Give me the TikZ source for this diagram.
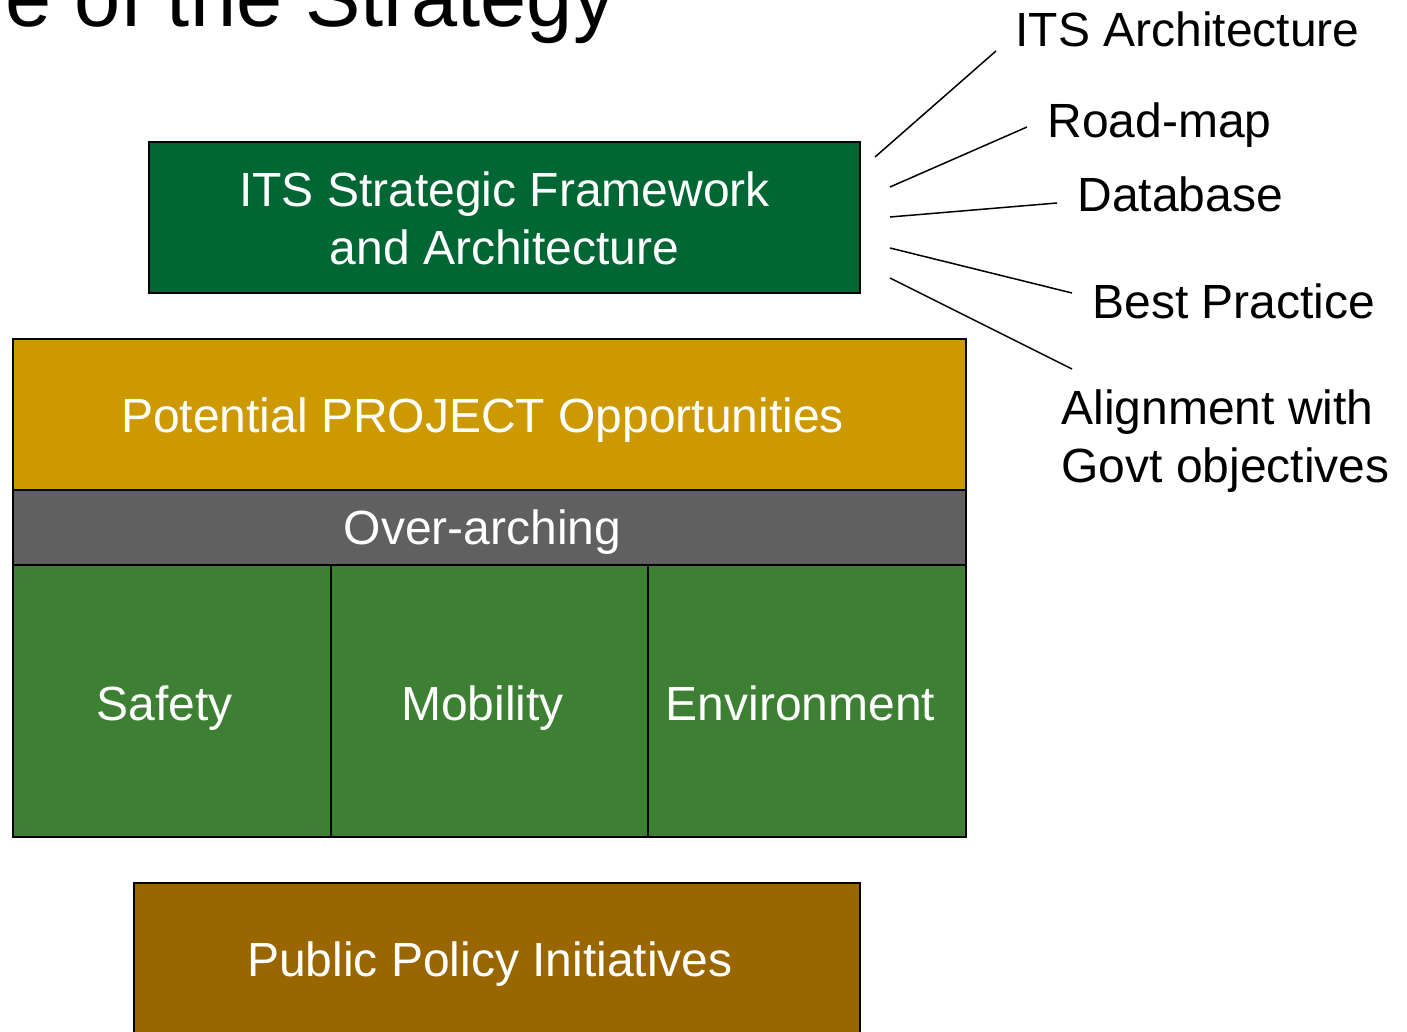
\documentclass[tikz,border=0pt]{standalone}
\usepackage{fontspec}
\setmainfont{Liberation Sans}
\usepackage{tikz}

\definecolor{fwgreen}{HTML}{006633}
\definecolor{oppgold}{HTML}{CC9900}
\definecolor{archgray}{HTML}{606060}
\definecolor{pillgreen}{HTML}{3D8033}
\definecolor{policybrown}{HTML}{996600}

\tikzset{
  blk/.style={draw=black, line width=1pt, inner sep=0pt, outer sep=0pt},
  wtxt/.style={text=white, font=\fontsize{24}{29}\selectfont, inner sep=0pt, anchor=base},
  btxt/.style={text=black, font=\fontsize{24}{29}\selectfont, inner sep=0pt, anchor=base west},
  spoke/.style={line width=0.75pt}
}

\begin{document}
\begin{tikzpicture}[x=0.5pt,y=-0.5pt]
\useasboundingbox (0,0) rectangle (1407,1032);
\clip (0,0) rectangle (1407,1032);

% title, cut off by the page edge
\node[font=\fontsize{41.5}{48}\selectfont, anchor=base east, inner sep=0pt] (title) at (615,27) {e of the Strategy};

% boxes
\node[blk, fill=fwgreen, minimum width=355.5pt, minimum height=75.5pt] (frame) at (504.5,217.5) {};
\node[blk, fill=oppgold, minimum width=476.5pt, minimum height=75.5pt] (opp) at (489.5,414.5) {};
\node[blk, fill=archgray, minimum width=476.5pt, minimum height=37.5pt] (over) at (489.5,527.5) {};
\node[blk, fill=pillgreen, minimum width=158.8pt, minimum height=136pt] (safety) at (171.8,701) {};
\node[blk, fill=pillgreen, minimum width=158.8pt, minimum height=136pt] (mobility) at (489.5,701) {};
\node[blk, fill=pillgreen, minimum width=158.8pt, minimum height=136pt] (environ) at (807.2,701) {};
\node[blk, fill=policybrown, minimum width=363pt, minimum height=81pt] (policy) at (497,964) {};

% box texts
\node[wtxt, anchor=center, align=center] (frametxt) at (504.5,218) {ITS Strategic Framework\\and Architecture};
\node[wtxt] (opptxt) at (482.5,432) {Potential PROJECT Opportunities};
\node[wtxt] (overtxt) at (482.5,544) {Over-arching};
\node[wtxt] (safetytxt) at (164.5,720) {Safety};
\node[wtxt] (mobilitytxt) at (482.5,720) {Mobility};
\node[wtxt] (environtxt) at (800.5,720) {Environment};
\node[wtxt] (policytxt) at (490,976) {Public Policy Initiatives};

% outputs of the framework
\node[btxt] (arch) at (1015,47) {ITS Architecture};
\node[btxt] (roadmap) at (1047,138) {Road-map};
\node[btxt] (dbase) at (1077,212) {Database};
\node[btxt] (bestp) at (1092,318) {Best Practice};
\node[btxt, align=left] (govt) at (1061,482) {Alignment with\\Govt objectives};

\coordinate (f1) at (875,157); \coordinate (t1) at (996,51);
\coordinate (f2) at (890,187); \coordinate (t2) at (1027,127);
\coordinate (f3) at (890,217); \coordinate (t3) at (1057,203);
\coordinate (f4) at (890,248); \coordinate (t4) at (1072,293);
\coordinate (f5) at (890,278); \coordinate (t5) at (1072,369);
\foreach \i in {1,...,5}
  \draw[spoke] (f\i) -- (t\i);
\end{tikzpicture}
\end{document}
